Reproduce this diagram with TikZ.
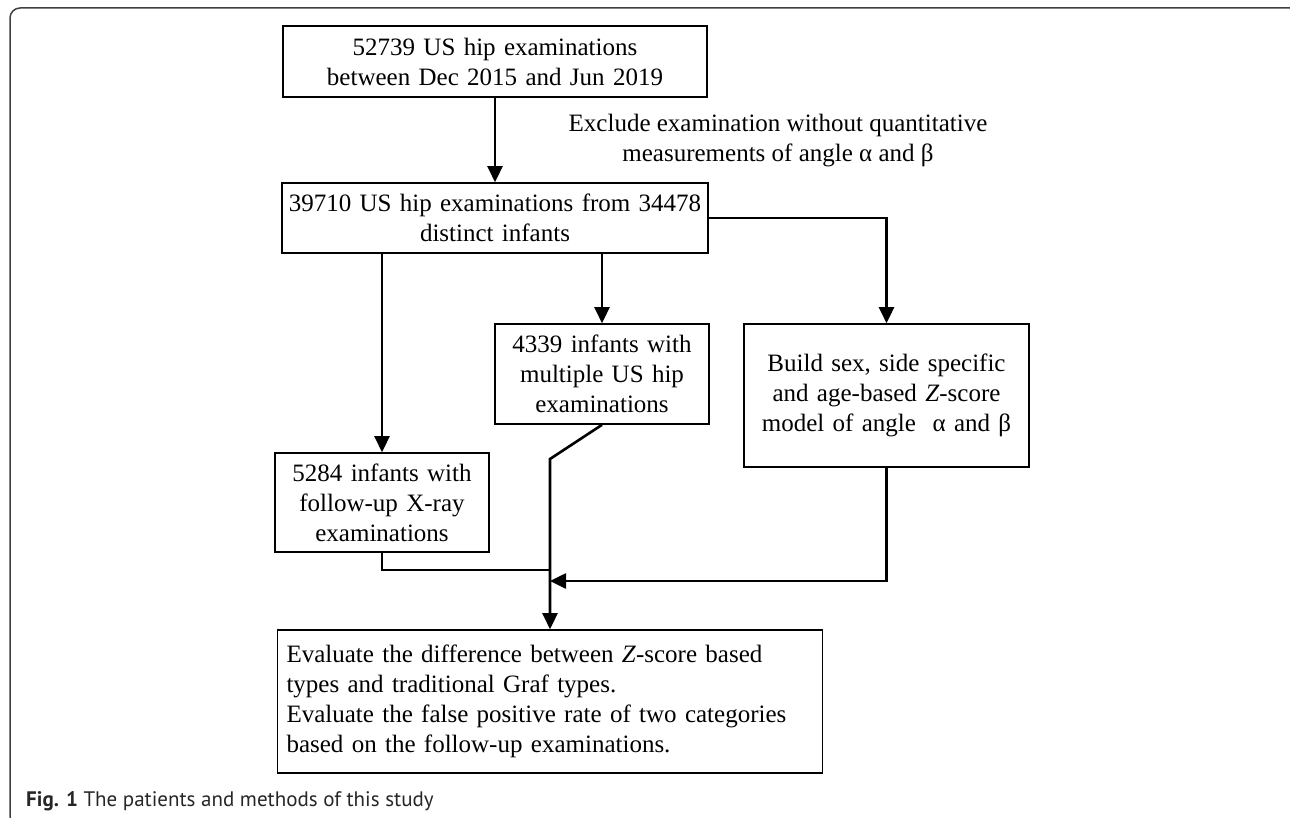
\documentclass[tikz,border=0pt]{standalone}
\usepackage{fontspec}
\setmainfont{Liberation Serif}
\newfontfamily\capfont{PT Sans}
\usetikzlibrary{arrows.meta}
\begin{document}
\begin{tikzpicture}[x=1pt,y=-1pt,
  box/.style={draw, line width=1.6pt, inner sep=0pt, align=center, font=\fontsize{25}{30}\selectfont},
  conn/.style={line width=2.6pt},
  arr/.style={conn, -{Triangle[length=16pt 0 0,width=15pt 0 0]}},
  frame/.style={black!75, line width=1.5pt, rounded corners=10pt}
  ]
\useasboundingbox (0,0) rectangle (1290,818);
\begin{scope}
\clip (0,0) rectangle (1290,818);
\draw[frame] (10,8) rectangle (1300,826);
\end{scope}

\node[box, text width=424pt, minimum height=71pt] (top) at (495,61.5) {52739 US hip examinations\\between Dec 2015 and Jun 2019};
\node[inner sep=0pt, align=center, font=\fontsize{25}{30}\selectfont] (excl) at (778,141) {Exclude examination without quantitative\\measurements of angle α and β};
\node[box, text width=426pt, minimum height=70pt] (b2) at (495,218) {39710 US hip examinations from 34478\\distinct infants};
\node[box, text width=214pt, minimum height=99pt] (b5284) at (382,502.5) {5284 infants with\\follow-up X-ray\\examinations};
\node[box, text width=214pt, minimum height=100pt] (b4339) at (602,374) {4339 infants with\\multiple US hip\\examinations};
\node[box, text width=285pt, minimum height=143pt] (build) at (886.5,395.5) {Build sex, side specific\\and age-based \textit{Z}-score\\model of angle~ α and β};
\node[box, text width=527pt, inner xsep=9pt, align=left, minimum height=143pt] (final) at (550,701.5) {Evaluate the difference between \textit{Z}-score based\\types and traditional Graf types.\\Evaluate the false positive rate of two categories\\based on the follow-up examinations.};

\coordinate (kink) at (550,459);
\coordinate (j1) at (550,570);
\coordinate (j2) at (550,581);

\draw[arr] (top.south) -- (b2.north);
\draw[arr] (b2.south -| b5284.north) -- (b5284.north);
\draw[arr] (b2.south -| b4339.north) -- (b4339.north);
\draw[arr] (b2.east) -| (build.north);
\draw[arr] (b4339.south) -- (kink) -- (final.north);
\draw[conn] (b5284.south) |- (j1);
\draw[arr] (build.south) |- (j2);

\node[anchor=base west, inner sep=0pt, font=\capfont\fontsize{21}{25}\selectfont, text=black!85] (cap) at (26,806) {\textbf{Fig. 1} The patients and methods of this study};
\end{tikzpicture}
\end{document}
